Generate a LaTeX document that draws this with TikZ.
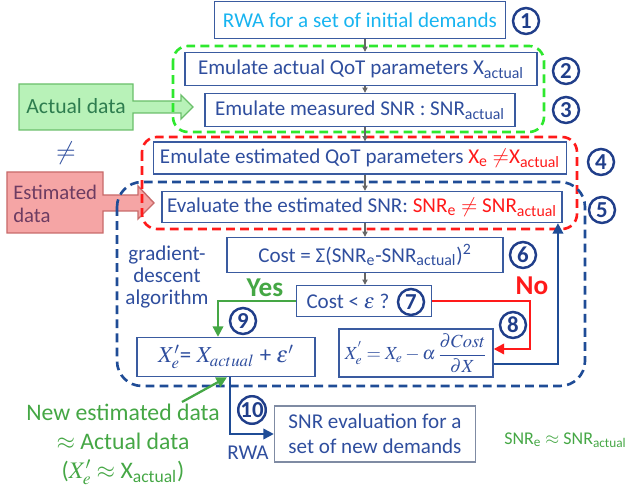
\documentclass[tikz,border=0pt]{standalone}
\usepackage{mathptmx}
\usepackage{amsmath}
\usepackage{fontspec}
\setmainfont{Carlito}
\usetikzlibrary{arrows.meta,positioning,calc}

\definecolor{qblue}{HTML}{2F4E9E}
\definecolor{qborder}{HTML}{3A5BA0}
\definecolor{qcyan}{HTML}{18B4F0}
\definecolor{qred}{HTML}{FF1A1A}
\definecolor{qgreen}{HTML}{45A745}
\definecolor{qdash}{HTML}{1F4C96}
\definecolor{qlime}{HTML}{2EE82E}
\definecolor{qnum}{HTML}{203E8A}
\definecolor{qgray}{HTML}{666666}
\definecolor{qslate}{HTML}{7F8BA3}
\definecolor{actfill}{HTML}{B8F2B8}
\definecolor{actline}{HTML}{6BBF6B}
\definecolor{acttext}{HTML}{2E7D4F}
\definecolor{estfill}{HTML}{F5A5A5}
\definecolor{estline}{HTML}{C86A6A}
\definecolor{esttext}{HTML}{6D3C62}

\begin{document}
\begin{tikzpicture}[x=0.02cm,y=-0.02cm,
  box/.style = {draw=qborder, line width=0.8pt, text=qblue, inner sep=0pt, font=\fontsize{12}{14.4}\selectfont},
  num/.style = {draw=qnum, circle, line width=1.4pt, text=qnum, minimum size=0.52cm, inner sep=0pt, font=\bfseries\fontsize{13}{14}\selectfont},
  flow/.style = {draw=qgray, line width=0.6pt, -{Triangle[length=3pt,width=3pt]}},
  group/.style = {dashed, line width=1.5pt, dash pattern=on 5pt off 3pt},
  link/.style = {line width=1.3pt, -{Triangle[length=6pt,width=6pt]}},
  label/.style = {font=\fontsize{12}{12.5}\selectfont},
  big/.style = {font=\fontsize{13.5}{16.5}\selectfont},
  answer/.style = {font=\bfseries\fontsize{15.5}{16}\selectfont}]
\useasboundingbox (0,0) rectangle (630,489);

% side blocks
\draw[fill=actfill, draw=actline, line width=0.8pt] (19,84) -- (133,84) -- (133,101) -- (181,101) -- (181,95) -- (193,107) -- (181,119) -- (181,113) -- (133,113) -- (133,130) -- (19,130) -- cycle;
\node[label, text=acttext, font=\fontsize{12.3}{13}\selectfont] (actual) at (76,106) {Actual data};
\draw[fill=estfill, draw=estline, line width=0.8pt] (7,172) -- (103,172) -- (103,195) -- (138,195) -- (138,186) -- (154,203) -- (138,219) -- (138,211) -- (103,211) -- (103,233) -- (7,233) -- cycle;
\node[text=esttext, align=left, inner sep=0pt, anchor=west, font=\fontsize{11.8}{13}\selectfont] (estimated) at (13,204) {Estimated\\data};
\node[text=qblue, font=\Large] (neq) at (66,153) {$\neq$};

% steps
\node[box, text=qcyan, minimum width=5.82cm, minimum height=0.74cm] (rwa) at (360,20) {RWA for a set of initial demands};
\node[num] (n1) at (526,21) {1};
\node[box, minimum width=7.04cm, minimum height=0.66cm] (qot) at (361,69) {Emulate actual QoT parameters X\textsubscript{actual}};
\node[num] (n2) at (566,71) {2};
\node[box, minimum width=6.2cm, minimum height=0.66cm] (snrmeas) at (360,110) {Emulate measured SNR : SNR\textsubscript{actual}};
\node[num] (n3) at (566,110) {3};
\node[box, minimum width=8.26cm, minimum height=0.64cm] (qotest) at (360,158) {Emulate estimated QoT parameters \textcolor{qred}{X\textsubscript{e} $\neq$X\textsubscript{actual}}};
\node[num] (n4) at (601,162) {4};
\node[box, minimum width=8cm, minimum height=0.62cm] (snrest) at (362,207) {Evaluate the estimated SNR: \textcolor{qred}{SNR\textsubscript{e} $\neq$ SNR\textsubscript{actual}}};
\node[num] (n5) at (602,210) {5};
\node[box, minimum width=5.52cm, minimum height=0.7cm] (cost) at (365,255) {Cost = Σ(SNR\textsubscript{e}-SNR\textsubscript{actual})\textsuperscript{2}};
\node[num] (n6) at (523,255) {6};
\node[box, minimum width=2.7cm, minimum height=0.62cm] (test) at (364,301) {\makebox[2.7cm][l]{\hspace{0.2cm}Cost < $\varepsilon$ ?}};
\node[num] (n7) at (411,302) {7};
\node[box, minimum width=3.08cm, minimum height=0.96cm] (update) at (416,353) {\fontsize{10.5}{12}\selectfont$X^{'}_{e} = X_{e} - \alpha\,\dfrac{\partial Cost}{\partial X}$};
\node[num] (n8) at (513,325) {8};
\node[box, minimum width=3.56cm, minimum height=0.78cm] (newx) at (226,357) {\fontsize{13}{15}\selectfont$X'_e$= $X_{actual}$ + $\varepsilon'$};
\node[num] (n9) at (243,321) {9};
\node[box, draw=qslate, align=left, minimum width=4.02cm, minimum height=1.12cm] (final) at (375,434) {SNR evaluation for a\\set of new demands};
\node[num] (n10) at (252,410) {10};

% labels
\node[label, text=qblue, align=center] (gd) at (167,277) {gradient-\\descent\\algorithm};
\node[answer, text=qgreen] (yes) at (265,288) {Yes};
\node[answer, text=qred] (no) at (532,286) {No};
\node[big, text=qgreen, align=center] (newdata) at (123,444) {New estimated data\\$\approx$ Actual data\\($X'_e \approx$ X\textsubscript{actual})};
\node[label, text=qblue] (rwalbl) at (248,453) {RWA};
\node[text=qgreen, inner sep=0pt, anchor=east, font=\fontsize{10.2}{12}\selectfont] (snrok) at (627,440) {SNR\textsubscript{e} $\approx$ SNR\textsubscript{actual}};

% groups
\draw[group, draw=qlime, rounded corners=0.3cm] (173,46) rectangle (544,132);
\draw[group, draw=qred, rounded corners=0.3cm] (142,137) rectangle (577,229);
\draw[group, draw=qdash, rounded corners=0.5cm] (117,182) rectangle (585,386);

% connectors
\coordinate (col) at (365,0);
\coordinate (newtip) at (182,402);
\draw[flow] (rwa.south -| col) -- (qot.north -| col);
\draw[flow] (qot.south -| col) -- (snrmeas.north -| col);
\draw[flow] (snrmeas.south -| col) -- (qotest.north -| col);
\draw[flow] (qotest.south -| col) -- (snrest.north -| col);
\draw[flow] (snrest.south -| col) -- (cost.north -| col);
\draw[flow] (cost.south -| col) -- (test.north -| col);
\draw[link, qgreen] (test.west) -| ([xshift=-0.16cm]newx.north);
\draw[link, qred] (test.east) -- ++(98,0) |- ([yshift=0.08cm]update.east);
\draw[link, qdash] ([yshift=-0.22cm]update.east) -| ([xshift=3.92cm]snrest.south);
\draw[link, qdash] ([xshift=0.08cm]newx.south) |- (final.west);
\draw[link, qgreen] (newtip) -- ([xshift=0.02cm]newx.south);
\end{tikzpicture}
\end{document}
